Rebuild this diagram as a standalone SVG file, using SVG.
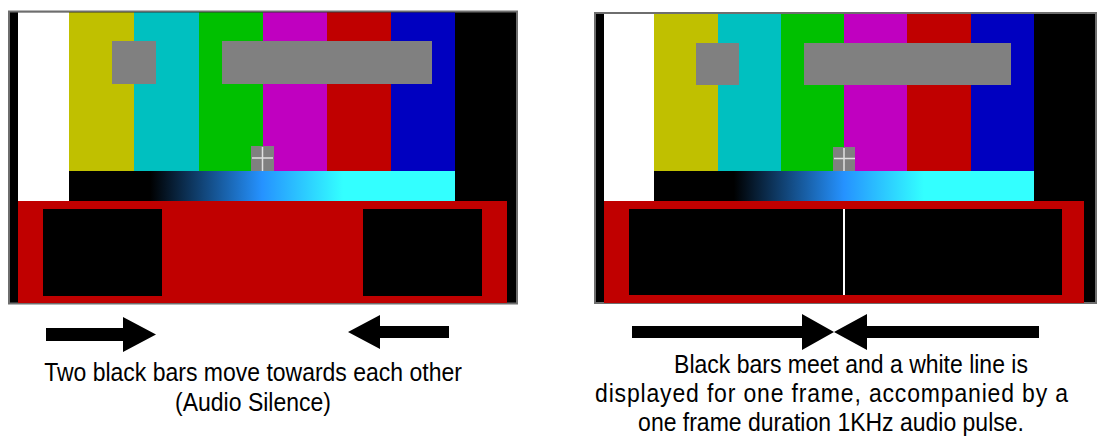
<svg xmlns="http://www.w3.org/2000/svg" width="1118" height="447" viewBox="0 0 1118 447">
<style>
.frame{fill:#000;stroke:#6e6e6e;stroke-width:2}
.w{fill:#fff}.y{fill:#c0c000}.c{fill:#00c0c0}.g{fill:#00c000}.m{fill:#c000c0}.r{fill:#c00000}.b{fill:#0000c0}
.gr{fill:#808080}.k{fill:#000}
.cross{stroke:#e0e0e0;stroke-width:1.5}
.arrow{fill:#000}
.cap{font-family:"Liberation Sans",Arial,sans-serif;font-size:23px;fill:#000;text-anchor:middle}
</style>
<defs>
<linearGradient id="ramp" x1="0" y1="0" x2="1" y2="0">
<stop offset="0" stop-color="#000"/>
<stop offset="0.21" stop-color="#000"/>
<stop offset="0.5" stop-color="#2592ff"/>
<stop offset="0.71" stop-color="#33ffff"/>
<stop offset="1" stop-color="#33ffff"/>
</linearGradient>
</defs>
<rect width="1118" height="447" fill="#fff"/>
<g id="panel-left">
<rect class="frame" x="9" y="11.5" width="508" height="292"/>
<rect class="w" x="18" y="12.5" width="51" height="189"/>
<rect class="y" x="69" y="12.5" width="65" height="159"/>
<rect class="c" x="134" y="12.5" width="65" height="159"/>
<rect class="g" x="199" y="12.5" width="64" height="159"/>
<rect class="m" x="263" y="12.5" width="64" height="159"/>
<rect class="r" x="327" y="12.5" width="64" height="159"/>
<rect class="b" x="391" y="12.5" width="64" height="159"/>
<rect class="gr" x="112" y="41" width="44" height="43"/>
<rect class="gr" x="222" y="41" width="210" height="43"/>
<rect class="gr" x="251" y="146" width="23" height="25"/>
<line class="cross" x1="262.5" y1="147" x2="262.5" y2="171"/>
<line class="cross" x1="252" y1="158" x2="273" y2="158"/>
<rect x="69" y="171" width="386" height="30" fill="url(#ramp)"/>
<rect class="r" x="18" y="201" width="489" height="102"/>
<rect class="k" x="43" y="209" width="119" height="87"/>
<rect class="k" x="363" y="209" width="119" height="87"/>
</g>
<g id="panel-right">
<rect class="frame" x="595" y="13" width="501" height="290"/>
<rect class="w" x="604" y="14" width="50" height="187"/>
<rect class="y" x="654" y="14" width="64" height="157"/>
<rect class="c" x="718" y="14" width="63" height="157"/>
<rect class="g" x="781" y="14" width="63" height="157"/>
<rect class="m" x="844" y="14" width="63" height="157"/>
<rect class="r" x="907" y="14" width="64" height="157"/>
<rect class="b" x="971" y="14" width="63" height="157"/>
<rect class="gr" x="696" y="43" width="43" height="42"/>
<rect class="gr" x="804" y="43" width="207" height="42"/>
<rect class="gr" x="833" y="147" width="22" height="24"/>
<line class="cross" x1="844" y1="148" x2="844" y2="171"/>
<line class="cross" x1="834" y1="158.5" x2="855" y2="158.5"/>
<rect x="654" y="171" width="380" height="30" fill="url(#ramp)"/>
<rect class="r" x="604" y="201" width="480" height="102"/>
<rect class="k" x="629" y="209" width="433" height="86"/>
<line x1="844" y1="209" x2="844" y2="295" stroke="#fff" stroke-width="2"/>
</g>
<g id="connectors">
<polygon class="arrow" points="46,328 123,328 123,317 156,334.5 123,352 123,341 46,341"/>
<polygon class="arrow" points="449,326 380,326 380,315 348,332 380,349 380,338 449,338"/>
<polygon class="arrow" points="632,326 802,326 802,314 834,332 802,350 802,338 632,338"/>
<polygon class="arrow" points="1039,326 867,326 867,314 834,332 867,350 867,338 1039,338"/>
</g>
<g id="caption-left">
<text class="cap" transform="translate(253,381) scale(1,1.1)">Two black bars move towards each other</text>
<text class="cap" transform="translate(253,411) scale(1,1.1)">(Audio Silence)</text>
</g>
<g id="caption-right">
<text class="cap" transform="translate(851,373) scale(1,1.1)">Black bars meet and a white line is</text>
<text class="cap" transform="translate(831.5,402) scale(1,1.1)" textLength="473" lengthAdjust="spacing">displayed for one frame, accompanied by a</text>
<text class="cap" transform="translate(831,431) scale(1,1.1)">one frame duration 1KHz audio pulse.</text>
</g>
</svg>
